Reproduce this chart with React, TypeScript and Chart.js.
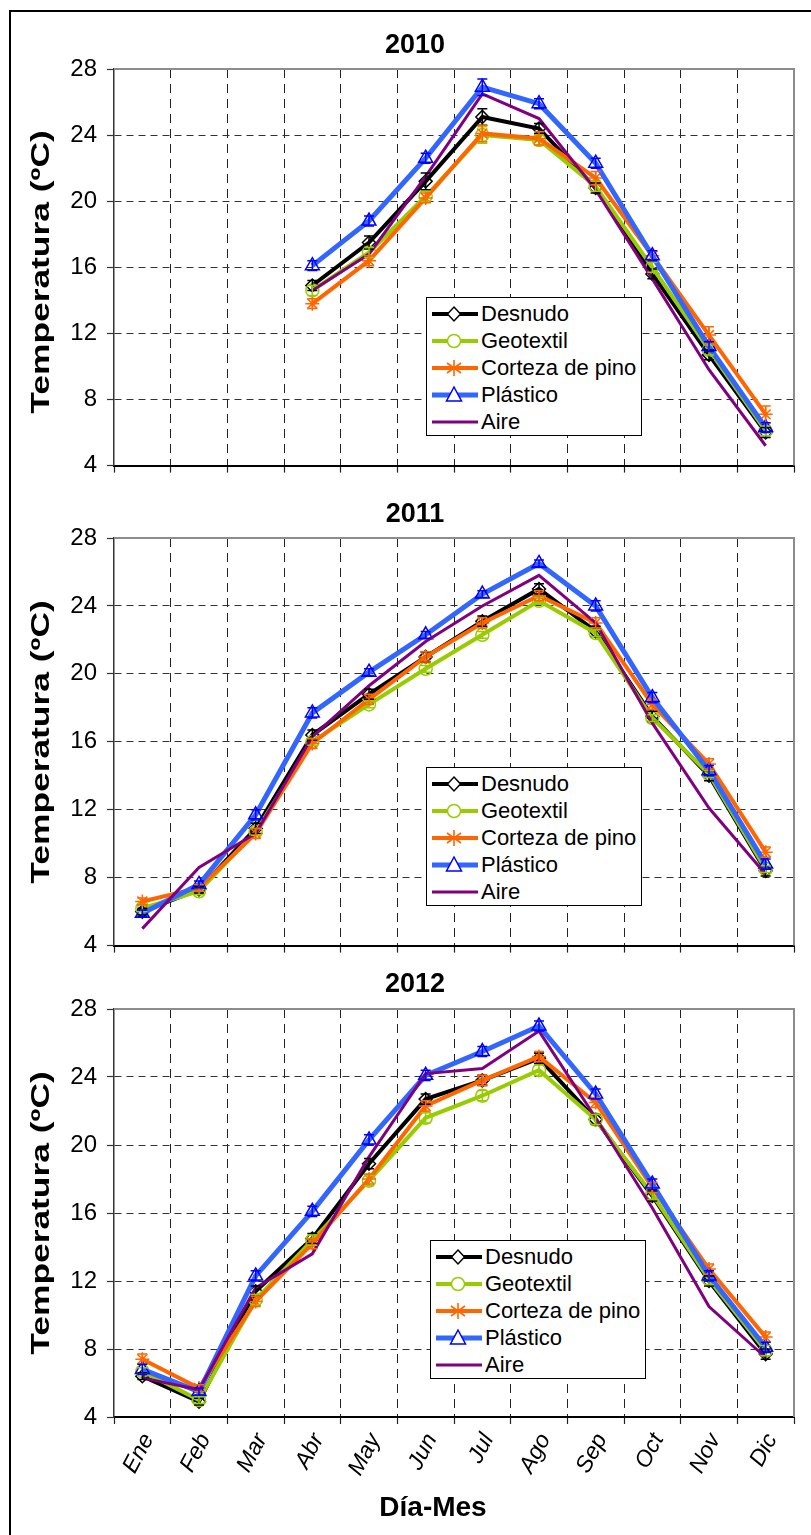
import React, { useEffect, useRef } from "react";
import { Chart, registerables } from "chart.js";

Chart.register(...registerables);

// ---------- data ----------
const months = ["Ene", "Feb", "Mar", "Abr", "May", "Jun", "Jul", "Ago", "Sep", "Oct", "Nov", "Dic"];
const yMin = 4;
const yMax = 28;
const yStep = 4;

const desnudo2010 = [null, null, null, 14.9, 17.5, 21.2, 25.1, 24.4, 20.8, 15.6, 10.7, 6.0];
const geotextil2010 = [null, null, null, 14.6, 16.9, 20.3, 24.0, 23.7, 20.9, 16.0, 11.0, 6.1];
const corteza2010 = [null, null, null, 13.8, 16.4, 20.2, 24.1, 23.8, 21.4, 16.7, 11.9, 7.1];
const plastico2010 = [null, null, null, 16.1, 18.8, 22.6, 26.9, 25.9, 22.3, 16.7, 11.2, 6.3];
const aire2010 = [null, null, null, 14.6, 16.8, 21.5, 26.5, 25.0, 20.7, 15.3, 9.8, 5.2];

const desnudoErr2010 = [null, null, null, 0.3, 0.4, 0.5, 0.5, 0.3, 0.3, 0.3, 0.3, 0.3];
const geotextilErr2010 = [null, null, null, 0.3, 0.3, 0.3, 0.5, 0.3, 0.3, 0.3, 0.3, 0.3];
const cortezaErr2010 = [null, null, null, 0.3, 0.3, 0.3, 0.5, 0.4, 0.4, 0.3, 0.5, 0.5];
const plasticoErr2010 = [null, null, null, 0.3, 0.3, 0.3, 0.5, 0.3, 0.3, 0.3, 0.3, 0.3];

const desnudo2011 = [6.0, 7.3, 10.9, 16.4, 18.8, 21.0, 23.1, 25.0, 22.5, 17.5, 14.0, 8.4];
const geotextil2011 = [6.2, 7.2, 10.7, 16.0, 18.2, 20.3, 22.3, 24.3, 22.4, 17.4, 14.1, 8.5];
const corteza2011 = [6.6, 7.4, 10.6, 15.9, 18.5, 21.0, 23.0, 24.6, 23.0, 18.2, 14.7, 9.5];
const plastico2011 = [5.9, 7.6, 11.7, 17.7, 20.1, 22.3, 24.7, 26.5, 24.0, 18.6, 14.3, 8.8];
const aire2011 = [5.0, 8.6, 10.6, 16.3, 19.3, 21.9, 24.0, 25.8, 23.0, 17.1, 12.1, 8.2];

const desnudoErr2011 = [0.2, 0.2, 0.3, 0.3, 0.3, 0.3, 0.3, 0.3, 0.3, 0.3, 0.3, 0.3];
const geotextilErr2011 = [0.2, 0.2, 0.2, 0.2, 0.2, 0.2, 0.2, 0.2, 0.2, 0.2, 0.2, 0.2];
const cortezaErr2011 = [0.2, 0.2, 0.3, 0.3, 0.3, 0.3, 0.3, 0.3, 0.3, 0.3, 0.3, 0.3];
const plasticoErr2011 = [0.2, 0.2, 0.3, 0.3, 0.2, 0.2, 0.2, 0.2, 0.3, 0.3, 0.3, 0.3];

const desnudo2012 = [6.4, 4.9, 11.4, 14.5, 18.9, 22.7, 23.8, 25.1, 21.5, 17.0, 12.0, 7.7];
const geotextil2012 = [6.7, 5.0, 10.9, 14.4, 17.9, 21.6, 22.9, 24.4, 21.5, 17.1, 12.1, 7.9];
const corteza2012 = [7.4, 5.7, 10.8, 14.2, 18.0, 22.3, 23.8, 25.2, 22.5, 17.5, 12.7, 8.7];
const plastico2012 = [6.8, 5.5, 12.3, 16.1, 20.3, 24.1, 25.5, 27.0, 23.0, 17.7, 12.3, 8.1];
const aire2012 = [6.3, 5.6, 11.6, 13.6, 19.3, 24.2, 24.5, 26.7, 21.6, 16.3, 10.5, 7.5];

const desnudoErr2012 = [0.2, 0.2, 0.3, 0.3, 0.3, 0.3, 0.3, 0.3, 0.3, 0.3, 0.3, 0.3];
const geotextilErr2012 = [0.2, 0.2, 0.3, 0.3, 0.3, 0.3, 0.3, 0.3, 0.3, 0.3, 0.3, 0.3];
const cortezaErr2012 = [0.3, 0.2, 0.3, 0.3, 0.3, 0.3, 0.3, 0.3, 0.3, 0.3, 0.3, 0.3];
const plasticoErr2012 = [0.3, 0.2, 0.3, 0.3, 0.3, 0.3, 0.3, 0.3, 0.3, 0.3, 0.3, 0.3];

const seriesNames = ["Desnudo", "Geotextil", "Corteza de pino", "Plástico", "Aire"];

// ---------- styles ----------
const FONT = "'Liberation Sans', Arial, Helvetica, sans-serif";
const lineColors = ["#000000", "#99CC00", "#FF6600", "#3366FF", "#800080"];
const markerColors = ["#000000", "#99CC00", "#FF6600", "#0000FF", "#800080"];
const lineWidths = [4, 4, 4, 5, 3];
const pointStyles: any[] = ["rectRot", "circle", "star", "triangle", false];
const pointRadii = [6.5, 6.5, 7, 8, 0];
const drawOrder = [5, 4, 3, 2, 1];

const errorBarPlugin = {
  id: "errorBars",
  afterDatasetsDraw(chart: any) {
    const ctx = chart.ctx;
    const yScale = chart.scales.y;
    chart.data.datasets.forEach((ds: any, di: number) => {
      if (!ds.errors) return;
      const meta = chart.getDatasetMeta(di);
      ctx.save();
      ctx.strokeStyle = ds.errColor;
      ctx.lineWidth = 1.5;
      ds.data.forEach((v: number | null, i: number) => {
        const e = ds.errors[i];
        if (v == null || e == null) return;
        const pt = meta.data[i];
        if (!pt) return;
        const x = pt.x;
        const yt = yScale.getPixelForValue(v + e);
        const yb = yScale.getPixelForValue(v - e);
        ctx.beginPath();
        ctx.moveTo(x, yt);
        ctx.lineTo(x, yb);
        ctx.moveTo(x - 5, yt);
        ctx.lineTo(x + 5, yt);
        ctx.moveTo(x - 5, yb);
        ctx.lineTo(x + 5, yb);
        ctx.stroke();
      });
      ctx.restore();
    });
  },
};

const framePlugin = {
  id: "frame",
  beforeDatasetsDraw(chart: any) {
    const { ctx, chartArea } = chart;
    ctx.save();
    ctx.strokeStyle = "#8c8c8c";
    ctx.lineWidth = 2;
    ctx.beginPath();
    ctx.moveTo(chartArea.left, chartArea.top);
    ctx.lineTo(chartArea.right, chartArea.top);
    ctx.lineTo(chartArea.right, chartArea.bottom);
    ctx.stroke();
    ctx.restore();
  },
};

type PanelProps = {
  top: number;
  height: number;
  padTop: number;
  xHeight: number;
  showLabels: boolean;
  series: (number | null)[][];
  errors: (number | null)[][];
};

function Panel({ top, height, padTop, xHeight, showLabels, series, errors }: PanelProps) {
  const ref = useRef<HTMLCanvasElement>(null);
  useEffect(() => {
    if (!ref.current) return;
    const datasets = series.map((d, i) => ({
      label: seriesNames[i],
      data: d,
      borderColor: lineColors[i],
      backgroundColor: lineColors[i],
      borderWidth: lineWidths[i],
      pointStyle: pointStyles[i],
      pointRadius: pointRadii[i],
      pointBorderColor: markerColors[i],
      pointBackgroundColor: "rgba(255,255,255,0)",
      pointBorderWidth: 1.5,
      tension: 0,
      spanGaps: false,
      order: drawOrder[i],
      errors: errors[i] || null,
      errColor: markerColors[i],
    }));
    const chart = new Chart(ref.current, {
      type: "line",
      data: { labels: months, datasets: datasets as any },
      options: {
        animation: false,
        responsive: false,
        maintainAspectRatio: false,
        events: [],
        layout: { padding: { top: padTop, right: 17, left: 0, bottom: 0 } },
        plugins: {
          legend: { display: false },
          tooltip: { enabled: false },
          title: { display: false },
        },
        scales: {
          x: {
            type: "category",
            offset: true,
            afterFit: (s: any) => {
              s.height = xHeight;
            },
            grid: {
              offset: true,
              color: (c: any) =>
                c.type !== "tick" || c.index === 0 ? "rgba(0,0,0,0)" : "#222",
              lineWidth: 1,
              tickColor: "#222",
              tickLength: 7,
              tickWidth: 1.2,
            },
            border: { display: true, color: "#000", width: 2, dash: [9, 6] },
            ticks: {
              display: showLabels,
              autoSkip: false,
              maxRotation: 62,
              minRotation: 62,
              padding: 5,
              labelOffset: 6,
              color: "#000",
              font: { family: FONT, size: 23, style: "italic" },
            },
          },
          y: {
            min: yMin,
            max: yMax,
            afterFit: (s: any) => {
              s.width = 114;
            },
            grid: {
              color: (c: any) =>
                c.tick && (c.tick.value === yMin || c.tick.value === yMax)
                  ? "rgba(0,0,0,0)"
                  : "#333",
              lineWidth: 1,
              tickColor: "#333",
              tickLength: 7,
              tickWidth: 1.2,
            },
            border: { display: true, color: "#333", width: 1.5, dash: [7, 5] },
            ticks: {
              stepSize: yStep,
              padding: 10,
              color: "#000",
              font: { family: FONT, size: 24 },
            },
          },
        },
      },
      plugins: [framePlugin, errorBarPlugin],
    });
    return () => chart.destroy();
  }, []);
  return (
    <canvas
      ref={ref}
      width={811}
      height={height}
      style={{ position: "absolute", left: 0, top, width: 811, height, display: "block" }}
    />
  );
}

function Marker({ i }: { i: number }) {
  const c = markerColors[i];
  const cx = 22;
  const cy = 10;
  if (i === 0)
    return (
      <polygon
        points={`${cx},${cy - 7} ${cx + 6.5},${cy} ${cx},${cy + 7} ${cx - 6.5},${cy}`}
        fill="#fff"
        stroke={c}
        strokeWidth={1.5}
      />
    );
  if (i === 1) return <circle cx={cx} cy={cy} r={6.5} fill="#fff" stroke={c} strokeWidth={1.5} />;
  if (i === 2)
    return (
      <g stroke={c} strokeWidth={1.6}>
        <line x1={cx} y1={cy - 8} x2={cx} y2={cy + 8} />
        <line x1={cx - 7} y1={cy - 5} x2={cx + 7} y2={cy + 5} />
        <line x1={cx - 7} y1={cy + 5} x2={cx + 7} y2={cy - 5} />
      </g>
    );
  if (i === 3)
    return (
      <polygon
        points={`${cx},${cy - 8} ${cx + 7.5},${cy + 6} ${cx - 7.5},${cy + 6}`}
        fill="#fff"
        stroke={c}
        strokeWidth={1.5}
      />
    );
  return null;
}

function Legend({ left, top }: { left: number; top: number }) {
  return (
    <div
      style={{
        position: "absolute",
        left,
        top,
        width: 214,
        height: 137,
        border: "1.5px solid #000",
        background: "#fff",
        fontFamily: FONT,
        fontSize: 22,
        color: "#000",
      }}
    >
      {seriesNames.map((n, i) => (
        <div
          key={n}
          style={{
            position: "absolute",
            left: 5,
            top: 5 + i * 27,
            height: 22,
            display: "flex",
            alignItems: "center",
            whiteSpace: "nowrap",
          }}
        >
          <svg width={46} height={20} style={{ display: "block" }}>
            <line x1={0} y1={10} x2={46} y2={10} stroke={lineColors[i]} strokeWidth={lineWidths[i]} />
            <Marker i={i} />
          </svg>
          <span style={{ marginLeft: 3, lineHeight: "22px" }}>{n}</span>
        </div>
      ))}
    </div>
  );
}

function YTitle({ cy }: { cy: number }) {
  return (
    <div
      style={{
        position: "absolute",
        left: 40,
        top: cy,
        transform: "translate(-50%, -50%) rotate(-90deg) scaleX(1.36)",
        fontFamily: FONT,
        fontWeight: "bold",
        fontSize: 26,
        whiteSpace: "nowrap",
        color: "#000",
      }}
    >
      Temperatura (ºC)
    </div>
  );
}

function PanelTitle({ text, cy }: { text: string; cy: number }) {
  return (
    <div
      style={{
        position: "absolute",
        left: 415,
        top: cy,
        transform: "translate(-50%, -50%)",
        fontFamily: FONT,
        fontWeight: "bold",
        fontSize: 27,
        color: "#000",
        whiteSpace: "nowrap",
      }}
    >
      {text}
    </div>
  );
}

export default function App() {
  return (
    <div
      style={{
        position: "absolute",
        left: 0,
        top: 0,
        width: 811,
        height: 1535,
        overflow: "hidden",
        background: "#fff",
      }}
    >
      <div
        style={{
          position: "absolute",
          left: 9,
          top: 10,
          width: 830,
          height: 1560,
          border: "2px solid #000",
          boxSizing: "border-box",
        }}
      />
      <Panel
        top={0}
        height={490}
        padTop={69}
        xHeight={14}
        showLabels={false}
        series={[desnudo2010, geotextil2010, corteza2010, plastico2010, aire2010]}
        errors={[desnudoErr2010, geotextilErr2010, cortezaErr2010, plasticoErr2010]}
      />
      <Panel
        top={490}
        height={480}
        padTop={48}
        xHeight={24}
        showLabels={false}
        series={[desnudo2011, geotextil2011, corteza2011, plastico2011, aire2011]}
        errors={[desnudoErr2011, geotextilErr2011, cortezaErr2011, plasticoErr2011]}
      />
      <Panel
        top={970}
        height={565}
        padTop={39}
        xHeight={118}
        showLabels={true}
        series={[desnudo2012, geotextil2012, corteza2012, plastico2012, aire2012]}
        errors={[desnudoErr2012, geotextilErr2012, cortezaErr2012, plasticoErr2012]}
      />
      <PanelTitle text="2010" cy={44} />
      <PanelTitle text="2011" cy={513} />
      <PanelTitle text="2012" cy={983} />
      <YTitle cy={272} />
      <YTitle cy={742} />
      <YTitle cy={1213} />
      <Legend left={426} top={297} />
      <Legend left={426} top={767} />
      <Legend left={430} top={1240} />
      <div
        style={{
          position: "absolute",
          left: 433,
          top: 1507,
          transform: "translate(-50%, -50%)",
          fontFamily: FONT,
          fontWeight: "bold",
          fontSize: 28,
          color: "#000",
          whiteSpace: "nowrap",
        }}
      >
        Día-Mes
      </div>
    </div>
  );
}
